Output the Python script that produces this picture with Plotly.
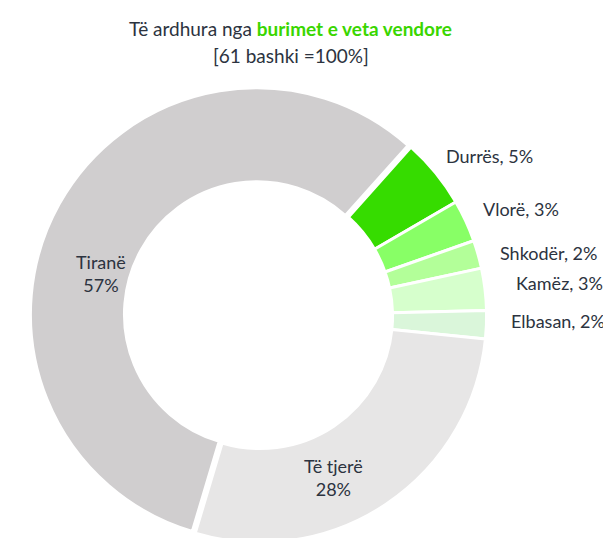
import plotly.graph_objects as go

# ---- data ----
labels = ["Durrës", "Vlorë", "Shkodër", "Kamëz", "Elbasan", "Të tjerë", "Tiranë"]
values = [5, 3, 2, 3, 2, 28, 57]
colors = ["#36dc00", "#88ff66", "#b3ff99", "#d6ffcc", "#daf6da", "#e7e6e6", "#d0cecf"]
pulls = [0, 0, 0, 0, 0, 0, 0.015]
title_plain = "Të ardhura nga "
title_bold = "burimet e veta vendore"
subtitle = "[61 bashki =100%]"

TEXT = "#2c3340"
FONT = "Lato"

W, H = 611, 538
cx = 252                   # pie centre x in px
top_px = 78                # top of pie box in px
box = H - top_px           # domain box size in px (bottom at figure edge)

fig = go.Figure(go.Pie(
    labels=labels,
    values=values,
    sort=False,
    direction="clockwise",
    rotation=41.8,
    hole=0.585,
    pull=pulls,
    marker=dict(colors=colors, line=dict(color="white", width=3)),
    textinfo="none",
    hoverinfo="label+percent",
    showlegend=False,
    domain=dict(x=[(cx - box / 2) / W, (cx + box / 2) / W],
                y=[0, 1 - top_px / H]),
))

def px(x, y):
    return dict(x=x / W, y=1 - y / H, xref="paper", yref="paper")

ann = []
# title
ann.append(dict(**px(282, 20), text=f"{title_plain}<span style='color:#3ad600'><b>{title_bold}</b></span>",
                showarrow=False, font=dict(family=FONT, size=19, color=TEXT), xanchor="center", yanchor="middle"))
ann.append(dict(**px(283, 47), text=subtitle, showarrow=False,
                font=dict(family=FONT, size=19, color=TEXT), xanchor="center", yanchor="middle"))

# outside labels for small slices (left x, centre y)
outside_pos = {"Durrës": (436, 148), "Vlorë": (473, 201), "Shkodër": (490, 245),
               "Kamëz": (506, 275), "Elbasan": (501, 313)}
# inside labels (centre x, centre y)
inside_pos = {"Tiranë": (93, 265), "Të tjerë": (325, 469)}

for name, val in zip(labels, values):
    if name in outside_pos:
        x, y = outside_pos[name]
        ann.append(dict(**px(x, y), text=f"{name}, {val}%", showarrow=False,
                        font=dict(family=FONT, size=18, color=TEXT), xanchor="left", yanchor="middle"))
    elif name in inside_pos:
        x, y = inside_pos[name]
        ann.append(dict(**px(x, y), text=f"{name}<br>{val}%", showarrow=False,
                        font=dict(family=FONT, size=18, color=TEXT), xanchor="center", yanchor="middle"))

fig.update_layout(
    width=W, height=H,
    margin=dict(l=0, r=0, t=0, b=0),
    paper_bgcolor="white", plot_bgcolor="white",
    annotations=ann,
)

fig.write_html("out.html")
